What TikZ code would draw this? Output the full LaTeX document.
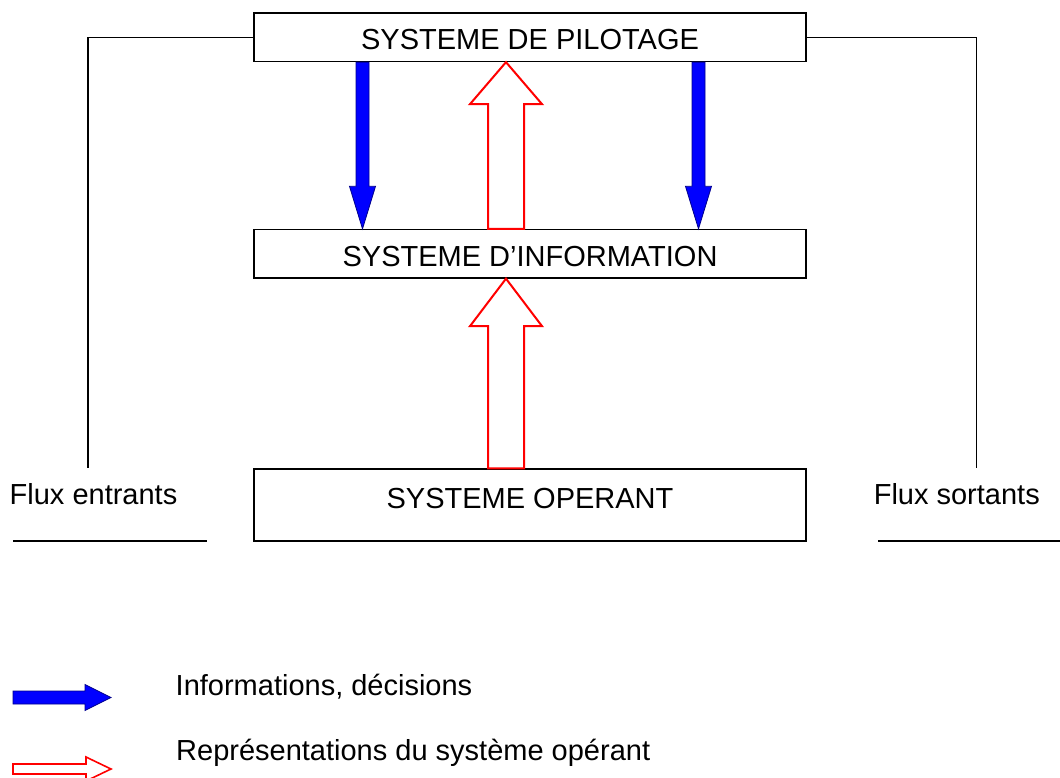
\documentclass[tikz,border=0pt]{standalone}
\usepackage{fontspec}
\setmainfont{Liberation Sans}
\usetikzlibrary{calc}
\begin{document}
\begin{tikzpicture}[x=1pt,y=-1pt,
  box/.style={draw, line width=1.3pt, inner sep=0pt, minimum width=552pt, font=\fontsize{29}{34}\selectfont},
  lbl/.style={inner sep=0pt, anchor=base west, font=\fontsize{29}{34}\selectfont},
  bluearr/.style={fill=blue, draw=blue!55!black, line width=0.8pt, line join=miter},
  redarr/.style={draw=red, fill=white, line width=2pt, line join=miter},
  plain/.style={line width=1.3pt}]
\useasboundingbox (0,0) rectangle (1060,778);
% boxes
\node[box, text height=37pt, text depth=11.5pt] (pil) at (530,37.25) {SYSTEME DE PILOTAGE};
\node[box, text height=36.5pt, text depth=12pt] (inf) at (530,253.75) {SYSTEME D’INFORMATION};
\node[box, text height=39pt, text depth=33pt] (ope) at (530,505) {SYSTEME OPERANT};
% side labels
\node[lbl] (fe) at (9.5,504) {Flux entrants};
\node[lbl] (fs) at (873.6,504) {Flux sortants};
% side connectors
\coordinate (lbot) at (88,468);
\coordinate (rbot) at (976.5,468);
\draw[plain] (pil.west) -| (lbot);
\draw[plain] (pil.east) -| (rbot);
\coordinate (ul1) at (13,541);
\coordinate (ul2) at (207,541);
\coordinate (ur1) at (878,541);
\coordinate (ur2) at (1060,541);
\draw[plain] (ul1) -- (ul2);
\draw[plain] (ur1) -- (ur2);
% blue arrows (pilotage -> information)
\coordinate (b1t) at ($(pil.south)+(-167.5,0)$);
\coordinate (b1b) at ($(inf.north)+(-167.5,0)$);
\coordinate (b2t) at ($(pil.south)+(168.5,0)$);
\coordinate (b2b) at ($(inf.north)+(168.5,0)$);
\draw[bluearr] let \p1=(b1t), \p2=(b1b) in
  (\x1-6.5pt,\y1) -- (\x1-6.5pt,\y2+42.5pt) -- (\x1-13pt,\y2+42.5pt) -- (\x2,\y2)
  -- (\x1+13pt,\y2+42.5pt) -- (\x1+6.5pt,\y2+42.5pt) -- (\x1+6.5pt,\y1) -- cycle;
\draw[bluearr] let \p1=(b2t), \p2=(b2b) in
  (\x1-6.5pt,\y1) -- (\x1-6.5pt,\y2+42.5pt) -- (\x1-13pt,\y2+42.5pt) -- (\x2,\y2)
  -- (\x1+13pt,\y2+42.5pt) -- (\x1+6.5pt,\y2+42.5pt) -- (\x1+6.5pt,\y1) -- cycle;
% red arrows (upward)
\coordinate (r1b) at ($(inf.north)+(-24,0)$);
\coordinate (r1t) at ($(pil.south)+(-24,0)$);
\coordinate (r2b) at ($(ope.north)+(-24,0)$);
\coordinate (r2t) at ($(inf.south)+(-24,0)$);
\draw[redarr] let \p1=(r1b), \p2=(r1t) in
  (\x1-18pt,\y1) -- (\x1-18pt,\y2-42pt) -- (\x1-36pt,\y2-42pt) -- (\x2,\y2)
  -- (\x1+36pt,\y2-42pt) -- (\x1+18pt,\y2-42pt) -- (\x1+18pt,\y1) -- cycle;
\draw[redarr] let \p1=(r2b), \p2=(r2t) in
  (\x1-18pt,\y1) -- (\x1-18pt,\y2-47.5pt) -- (\x1-36pt,\y2-47.5pt) -- (\x2,\y2)
  -- (\x1+36pt,\y2-47.5pt) -- (\x1+18pt,\y2-47.5pt) -- (\x1+18pt,\y1) -- cycle;
% legend
\coordinate (lb1) at (13,697.5);
\coordinate (lb2) at (111,697.5);
\draw[bluearr] let \p1=(lb1), \p2=(lb2) in
  (\x1,\y1+6.5pt) -- (\x2-26pt,\y1+6.5pt) -- (\x2-26pt,\y1+13pt) -- (\x2,\y2)
  -- (\x2-26pt,\y1-13pt) -- (\x2-26pt,\y1-6.5pt) -- (\x1,\y1-6.5pt) -- cycle;
\coordinate (lr1) at (13,769);
\coordinate (lr2) at (111,769);
\draw[redarr, line width=1.6pt] let \p1=(lr1), \p2=(lr2) in
  (\x1,\y1+5pt) -- (\x2-25pt,\y1+5pt) -- (\x2-25pt,\y1+12pt) -- (\x2,\y2)
  -- (\x2-25pt,\y1-12pt) -- (\x2-25pt,\y1-5pt) -- (\x1,\y1-5pt) -- cycle;
\node[lbl] (l1) at (175.5,695) {Informations, décisions};
\node[lbl] (l2) at (176,760) {Représentations du système opérant};
\end{tikzpicture}
\end{document}
